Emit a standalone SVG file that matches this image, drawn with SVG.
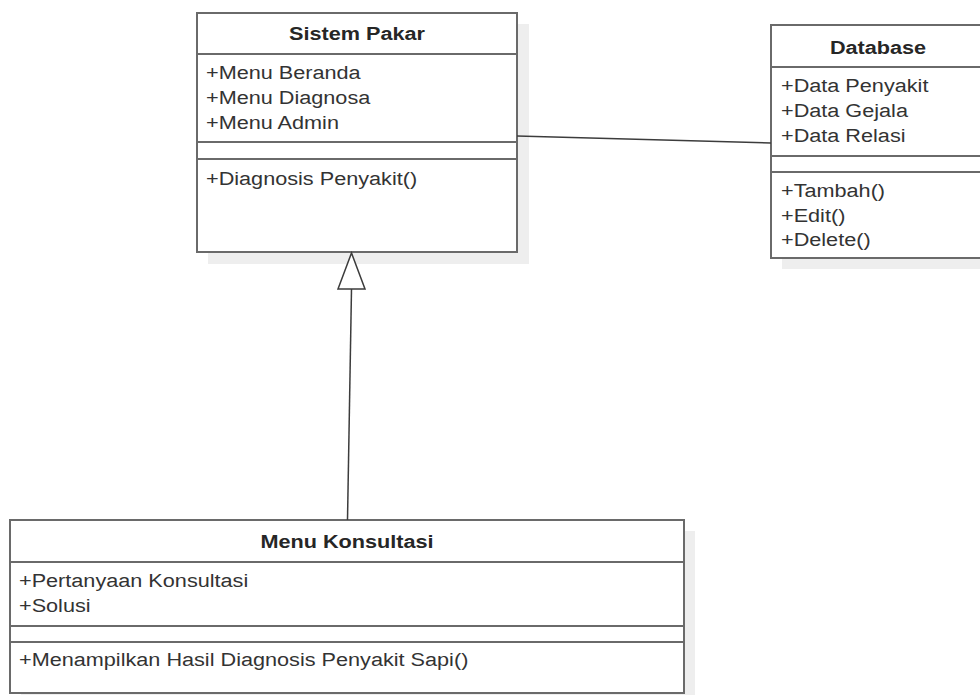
<svg xmlns="http://www.w3.org/2000/svg" width="980" height="695" viewBox="0 0 980 695">
  <style>
    .shadow { fill: #eeeeee; stroke: none; }
    .box { fill: #ffffff; stroke: #6a6a6a; stroke-width: 2; }
    .sep { stroke: #6a6a6a; stroke-width: 2; }
    .title { font-family: "Liberation Sans", Arial, sans-serif; font-size: 19px; font-weight: bold; fill: #262626; text-anchor: middle; }
    .member { font-family: "Liberation Sans", Arial, sans-serif; font-size: 19px; fill: #333333; }
    .link { fill: none; stroke: #3c3c3c; stroke-width: 1.5; }
    .head { fill: #ffffff; stroke: #3c3c3c; stroke-width: 1.5; }
  </style>

  <rect width="980" height="695" fill="#ffffff"/>

  <!-- Sistem Pakar class -->
  <g id="sistem-pakar">
    <rect class="shadow" x="208" y="24" width="321" height="240"/>
    <rect class="box" x="197" y="13" width="320" height="239"/>
    <line class="sep" x1="197" y1="54" x2="517" y2="54"/>
    <line class="sep" x1="197" y1="142" x2="517" y2="142"/>
    <line class="sep" x1="197" y1="159" x2="517" y2="159"/>
    <text class="title" transform="matrix(1.14 0 0 1 357 0)" x="0" y="40">Sistem Pakar</text>
    <g transform="matrix(1.14 0 0 1 206 0)">
      <text class="member" x="0" y="79">+Menu Beranda</text>
      <text class="member" x="0" y="104">+Menu Diagnosa</text>
      <text class="member" x="0" y="129">+Menu Admin</text>
      <text class="member" x="0" y="185">+Diagnosis Penyakit()</text>
    </g>
  </g>

  <!-- Database class -->
  <g id="database">
    <rect class="shadow" x="782" y="36" width="214" height="233"/>
    <rect class="box" x="771" y="25" width="214" height="233"/>
    <line class="sep" x1="771" y1="67" x2="985" y2="67"/>
    <line class="sep" x1="771" y1="156" x2="985" y2="156"/>
    <line class="sep" x1="771" y1="172" x2="985" y2="172"/>
    <text class="title" transform="matrix(1.14 0 0 1 878 0)" x="0" y="54">Database</text>
    <g transform="matrix(1.14 0 0 1 781 0)">
      <text class="member" x="0" y="92">+Data Penyakit</text>
      <text class="member" x="0" y="117">+Data Gejala</text>
      <text class="member" x="0" y="142">+Data Relasi</text>
      <text class="member" x="0" y="197">+Tambah()</text>
      <text class="member" x="0" y="222">+Edit()</text>
      <text class="member" x="0" y="246">+Delete()</text>
    </g>
  </g>

  <!-- Menu Konsultasi class -->
  <g id="menu-konsultasi">
    <rect class="shadow" x="21" y="531" width="674" height="173"/>
    <rect class="box" x="10" y="520" width="674" height="173"/>
    <line class="sep" x1="10" y1="562" x2="684" y2="562"/>
    <line class="sep" x1="10" y1="626" x2="684" y2="626"/>
    <line class="sep" x1="10" y1="642" x2="684" y2="642"/>
    <text class="title" transform="matrix(1.14 0 0 1 347 0)" x="0" y="548">Menu Konsultasi</text>
    <g transform="matrix(1.14 0 0 1 19 0)">
      <text class="member" x="0" y="587">+Pertanyaan Konsultasi</text>
      <text class="member" x="0" y="612">+Solusi</text>
      <text class="member" x="0" y="666">+Menampilkan Hasil Diagnosis Penyakit Sapi()</text>
    </g>
  </g>

  <!-- Relationships -->
  <g id="connectors">
    <!-- association Sistem Pakar - Database -->
    <line class="link" x1="517" y1="136" x2="771" y2="143"/>
    <!-- generalization Menu Konsultasi -> Sistem Pakar -->
    <line class="link" x1="347.5" y1="520" x2="351.5" y2="289"/>
    <polygon class="head" points="351.5,253 338,289 365,289"/>
  </g>
</svg>
